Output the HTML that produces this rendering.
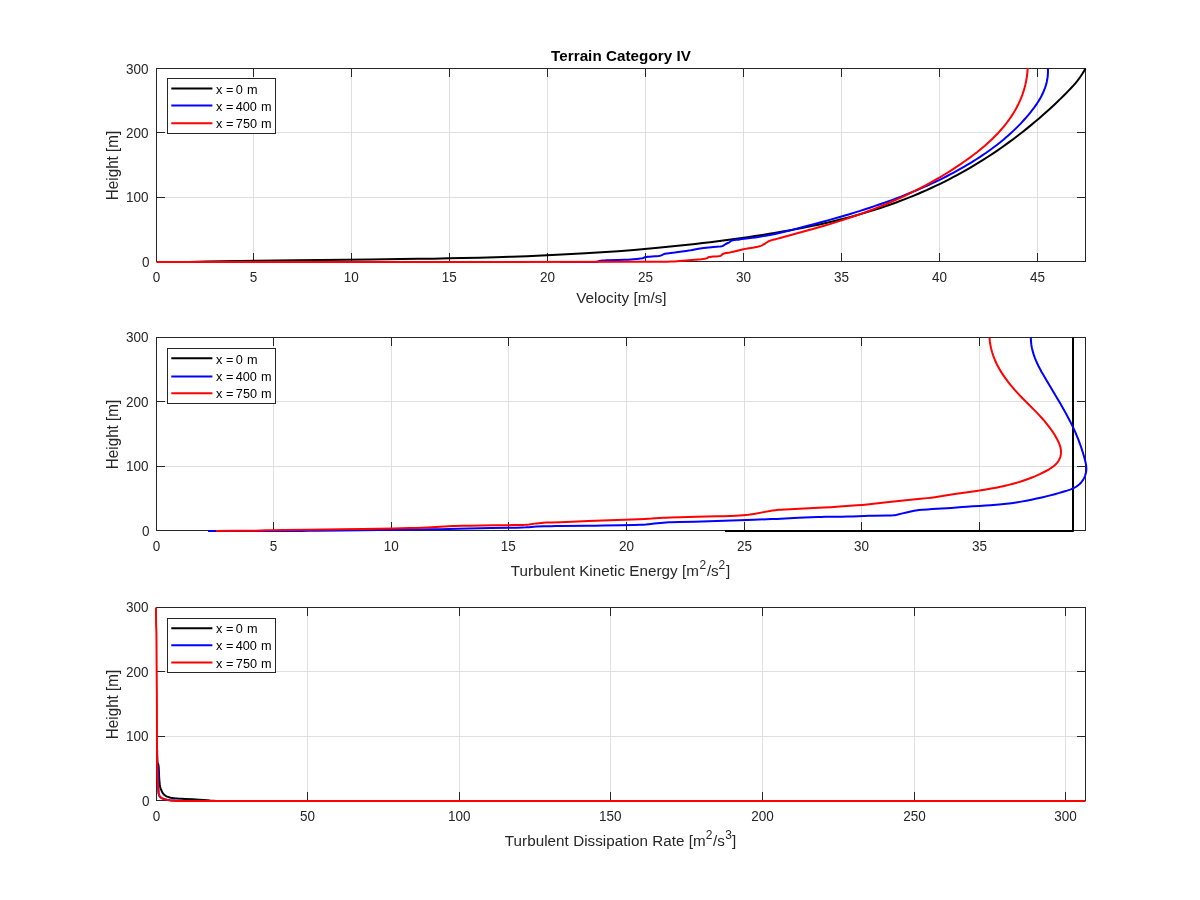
<!DOCTYPE html>
<html><head><meta charset="utf-8"><style>
html,body{margin:0;padding:0;background:#fff;}
svg{display:block;will-change:transform;}
text{font-family:"Liberation Sans",sans-serif;}
.tk{font-size:13.33px;fill:#262626;}
.lb{font-size:14.67px;fill:#262626;}
.sup{font-size:10.5px;}
.lg{font-size:12px;fill:#000;}
.tt{font-size:14.67px;font-weight:bold;fill:#000;}
</style></head><body>
<svg width="1200" height="900" viewBox="0 0 1200 900">
<rect width="1200" height="900" fill="#fff"/>
<line x1="253.5" y1="68" x2="253.5" y2="262" stroke="#dfdfdf" stroke-width="1"/>
<line x1="351.5" y1="68" x2="351.5" y2="262" stroke="#dfdfdf" stroke-width="1"/>
<line x1="449.5" y1="68" x2="449.5" y2="262" stroke="#dfdfdf" stroke-width="1"/>
<line x1="547.5" y1="68" x2="547.5" y2="262" stroke="#dfdfdf" stroke-width="1"/>
<line x1="645.5" y1="68" x2="645.5" y2="262" stroke="#dfdfdf" stroke-width="1"/>
<line x1="743.5" y1="68" x2="743.5" y2="262" stroke="#dfdfdf" stroke-width="1"/>
<line x1="841.5" y1="68" x2="841.5" y2="262" stroke="#dfdfdf" stroke-width="1"/>
<line x1="939.5" y1="68" x2="939.5" y2="262" stroke="#dfdfdf" stroke-width="1"/>
<line x1="1037.5" y1="68" x2="1037.5" y2="262" stroke="#dfdfdf" stroke-width="1"/>
<line x1="156" y1="197.5" x2="1086" y2="197.5" stroke="#dfdfdf" stroke-width="1"/>
<line x1="156" y1="132.5" x2="1086" y2="132.5" stroke="#dfdfdf" stroke-width="1"/>
<line x1="273.5" y1="337" x2="273.5" y2="531" stroke="#dfdfdf" stroke-width="1"/>
<line x1="391.5" y1="337" x2="391.5" y2="531" stroke="#dfdfdf" stroke-width="1"/>
<line x1="508.5" y1="337" x2="508.5" y2="531" stroke="#dfdfdf" stroke-width="1"/>
<line x1="626.5" y1="337" x2="626.5" y2="531" stroke="#dfdfdf" stroke-width="1"/>
<line x1="744.5" y1="337" x2="744.5" y2="531" stroke="#dfdfdf" stroke-width="1"/>
<line x1="861.5" y1="337" x2="861.5" y2="531" stroke="#dfdfdf" stroke-width="1"/>
<line x1="979.5" y1="337" x2="979.5" y2="531" stroke="#dfdfdf" stroke-width="1"/>
<line x1="156" y1="466.5" x2="1086" y2="466.5" stroke="#dfdfdf" stroke-width="1"/>
<line x1="156" y1="401.5" x2="1086" y2="401.5" stroke="#dfdfdf" stroke-width="1"/>
<line x1="307.5" y1="607" x2="307.5" y2="801" stroke="#dfdfdf" stroke-width="1"/>
<line x1="459.5" y1="607" x2="459.5" y2="801" stroke="#dfdfdf" stroke-width="1"/>
<line x1="610.5" y1="607" x2="610.5" y2="801" stroke="#dfdfdf" stroke-width="1"/>
<line x1="762.5" y1="607" x2="762.5" y2="801" stroke="#dfdfdf" stroke-width="1"/>
<line x1="914.5" y1="607" x2="914.5" y2="801" stroke="#dfdfdf" stroke-width="1"/>
<line x1="1065.5" y1="607" x2="1065.5" y2="801" stroke="#dfdfdf" stroke-width="1"/>
<line x1="156" y1="736.5" x2="1086" y2="736.5" stroke="#dfdfdf" stroke-width="1"/>
<line x1="156" y1="671.5" x2="1086" y2="671.5" stroke="#dfdfdf" stroke-width="1"/>
<rect x="156.5" y="68.5" width="929" height="193" fill="none" stroke="#262626" stroke-width="1"/>
<line x1="253.5" y1="68" x2="253.5" y2="77" stroke="#262626" stroke-width="1"/>
<line x1="253.5" y1="262" x2="253.5" y2="253" stroke="#262626" stroke-width="1"/>
<line x1="351.5" y1="68" x2="351.5" y2="77" stroke="#262626" stroke-width="1"/>
<line x1="351.5" y1="262" x2="351.5" y2="253" stroke="#262626" stroke-width="1"/>
<line x1="449.5" y1="68" x2="449.5" y2="77" stroke="#262626" stroke-width="1"/>
<line x1="449.5" y1="262" x2="449.5" y2="253" stroke="#262626" stroke-width="1"/>
<line x1="547.5" y1="68" x2="547.5" y2="77" stroke="#262626" stroke-width="1"/>
<line x1="547.5" y1="262" x2="547.5" y2="253" stroke="#262626" stroke-width="1"/>
<line x1="645.5" y1="68" x2="645.5" y2="77" stroke="#262626" stroke-width="1"/>
<line x1="645.5" y1="262" x2="645.5" y2="253" stroke="#262626" stroke-width="1"/>
<line x1="743.5" y1="68" x2="743.5" y2="77" stroke="#262626" stroke-width="1"/>
<line x1="743.5" y1="262" x2="743.5" y2="253" stroke="#262626" stroke-width="1"/>
<line x1="841.5" y1="68" x2="841.5" y2="77" stroke="#262626" stroke-width="1"/>
<line x1="841.5" y1="262" x2="841.5" y2="253" stroke="#262626" stroke-width="1"/>
<line x1="939.5" y1="68" x2="939.5" y2="77" stroke="#262626" stroke-width="1"/>
<line x1="939.5" y1="262" x2="939.5" y2="253" stroke="#262626" stroke-width="1"/>
<line x1="1037.5" y1="68" x2="1037.5" y2="77" stroke="#262626" stroke-width="1"/>
<line x1="1037.5" y1="262" x2="1037.5" y2="253" stroke="#262626" stroke-width="1"/>
<line x1="156" y1="197.5" x2="165" y2="197.5" stroke="#262626" stroke-width="1"/>
<line x1="1086" y1="197.5" x2="1077" y2="197.5" stroke="#262626" stroke-width="1"/>
<line x1="156" y1="132.5" x2="165" y2="132.5" stroke="#262626" stroke-width="1"/>
<line x1="1086" y1="132.5" x2="1077" y2="132.5" stroke="#262626" stroke-width="1"/>
<rect x="156.5" y="337.5" width="929" height="193" fill="none" stroke="#262626" stroke-width="1"/>
<line x1="273.5" y1="337" x2="273.5" y2="346" stroke="#262626" stroke-width="1"/>
<line x1="273.5" y1="531" x2="273.5" y2="522" stroke="#262626" stroke-width="1"/>
<line x1="391.5" y1="337" x2="391.5" y2="346" stroke="#262626" stroke-width="1"/>
<line x1="391.5" y1="531" x2="391.5" y2="522" stroke="#262626" stroke-width="1"/>
<line x1="508.5" y1="337" x2="508.5" y2="346" stroke="#262626" stroke-width="1"/>
<line x1="508.5" y1="531" x2="508.5" y2="522" stroke="#262626" stroke-width="1"/>
<line x1="626.5" y1="337" x2="626.5" y2="346" stroke="#262626" stroke-width="1"/>
<line x1="626.5" y1="531" x2="626.5" y2="522" stroke="#262626" stroke-width="1"/>
<line x1="744.5" y1="337" x2="744.5" y2="346" stroke="#262626" stroke-width="1"/>
<line x1="744.5" y1="531" x2="744.5" y2="522" stroke="#262626" stroke-width="1"/>
<line x1="861.5" y1="337" x2="861.5" y2="346" stroke="#262626" stroke-width="1"/>
<line x1="861.5" y1="531" x2="861.5" y2="522" stroke="#262626" stroke-width="1"/>
<line x1="979.5" y1="337" x2="979.5" y2="346" stroke="#262626" stroke-width="1"/>
<line x1="979.5" y1="531" x2="979.5" y2="522" stroke="#262626" stroke-width="1"/>
<line x1="156" y1="466.5" x2="165" y2="466.5" stroke="#262626" stroke-width="1"/>
<line x1="1086" y1="466.5" x2="1077" y2="466.5" stroke="#262626" stroke-width="1"/>
<line x1="156" y1="401.5" x2="165" y2="401.5" stroke="#262626" stroke-width="1"/>
<line x1="1086" y1="401.5" x2="1077" y2="401.5" stroke="#262626" stroke-width="1"/>
<rect x="156.5" y="607.5" width="929" height="193" fill="none" stroke="#262626" stroke-width="1"/>
<line x1="307.5" y1="607" x2="307.5" y2="616" stroke="#262626" stroke-width="1"/>
<line x1="307.5" y1="801" x2="307.5" y2="792" stroke="#262626" stroke-width="1"/>
<line x1="459.5" y1="607" x2="459.5" y2="616" stroke="#262626" stroke-width="1"/>
<line x1="459.5" y1="801" x2="459.5" y2="792" stroke="#262626" stroke-width="1"/>
<line x1="610.5" y1="607" x2="610.5" y2="616" stroke="#262626" stroke-width="1"/>
<line x1="610.5" y1="801" x2="610.5" y2="792" stroke="#262626" stroke-width="1"/>
<line x1="762.5" y1="607" x2="762.5" y2="616" stroke="#262626" stroke-width="1"/>
<line x1="762.5" y1="801" x2="762.5" y2="792" stroke="#262626" stroke-width="1"/>
<line x1="914.5" y1="607" x2="914.5" y2="616" stroke="#262626" stroke-width="1"/>
<line x1="914.5" y1="801" x2="914.5" y2="792" stroke="#262626" stroke-width="1"/>
<line x1="1065.5" y1="607" x2="1065.5" y2="616" stroke="#262626" stroke-width="1"/>
<line x1="1065.5" y1="801" x2="1065.5" y2="792" stroke="#262626" stroke-width="1"/>
<line x1="156" y1="736.5" x2="165" y2="736.5" stroke="#262626" stroke-width="1"/>
<line x1="1086" y1="736.5" x2="1077" y2="736.5" stroke="#262626" stroke-width="1"/>
<line x1="156" y1="671.5" x2="165" y2="671.5" stroke="#262626" stroke-width="1"/>
<line x1="1086" y1="671.5" x2="1077" y2="671.5" stroke="#262626" stroke-width="1"/>
<polyline points="190.00,262.03 205.93,261.62 222.36,261.26 239.78,260.94 258.20,260.64 276.12,260.40 295.53,260.18 370.20,259.45 401.06,259.10 417.98,258.87 433.41,258.63 448.35,258.36 462.28,258.07 479.21,257.66 495.63,257.21 511.56,256.70 526.99,256.14 541.93,255.53 556.86,254.84 571.30,254.10 585.23,253.31 601.66,252.27 618.09,251.13 634.02,249.89 641.98,249.23 649.95,248.54 657.91,247.81 665.38,247.10 672.84,246.36 680.31,245.59 687.78,244.78 695.24,243.95 702.71,243.08 710.18,242.18 717.64,241.25 725.11,240.28 732.58,239.27 740.04,238.23 747.51,237.16 754.98,236.04 762.44,234.89 769.41,233.78 775.88,232.71 782.35,231.61 788.83,230.47 794.80,229.37 800.77,228.24 806.75,227.07 812.72,225.85 818.19,224.69 823.67,223.48 829.15,222.23 834.62,220.94 840.10,219.59 845.57,218.20 850.55,216.88 855.53,215.52 860.51,214.11 865.48,212.65 870.46,211.14 875.44,209.58 880.42,207.97 885.39,206.30 889.87,204.74 894.85,202.96 899.33,201.31 904.31,199.41 908.79,197.65 913.27,195.83 917.75,193.96 922.23,192.04 926.71,190.06 931.19,188.03 935.67,185.93 940.15,183.78 944.63,181.56 949.11,179.28 953.09,177.20 957.57,174.81 961.55,172.62 966.03,170.09 970.02,167.80 974.50,165.14 978.98,162.42 983.46,159.63 987.94,156.76 992.42,153.82 996.90,150.81 1001.38,147.71 1005.36,144.90 1009.84,141.66 1013.82,138.70 1018.30,135.30 1022.28,132.21 1026.76,128.64 1030.74,125.40 1034.73,122.08 1038.71,118.69 1043.19,114.79 1047.17,111.24 1051.65,107.14 1055.63,103.41 1060.11,99.11 1064.10,95.18 1068.58,90.65 1071.56,87.52 1073.55,85.34 1075.54,83.03 1077.54,80.58 1079.03,78.61 1080.02,77.23 1081.02,75.80 1082.51,73.53 1084.01,71.10 1085.50,68.51" fill="none" stroke="#000" stroke-width="2.0" stroke-linejoin="round" stroke-linecap="butt"/>
<polyline points="560.00,262.00 580.02,261.97 595.26,261.89 595.94,261.84 596.84,261.69 597.74,261.49 599.53,261.03 600.43,260.82 601.33,260.67 602.01,260.60 604.28,260.47 606.79,260.37 618.03,260.07 624.44,259.81 627.87,259.63 630.84,259.44 633.58,259.24 636.54,258.97 640.87,258.50 641.79,258.38 642.46,258.26 642.67,258.21 643.10,258.05 644.15,257.55 644.79,257.30 645.45,257.17 646.56,257.00 647.91,256.83 649.51,256.68 654.84,256.34 656.68,256.19 658.49,255.98 660.04,255.74 660.69,255.57 661.33,255.33 663.43,254.30 664.28,253.95 664.71,253.82 665.15,253.72 666.93,253.41 668.97,253.15 674.70,252.54 681.97,251.59 686.28,250.98 688.76,250.60 690.79,250.26 692.37,249.94 695.73,249.22 697.30,248.91 698.43,248.73 700.24,248.48 703.65,248.07 711.40,247.24 713.02,247.09 716.99,246.77 718.61,246.62 720.18,246.42 721.70,246.17 722.54,245.99 722.74,245.93 723.14,245.75 723.72,245.39 724.87,244.54 725.26,244.28 726.27,243.75 728.35,242.77 729.16,242.35 729.56,242.13 729.94,241.86 730.85,241.08 731.22,240.81 731.60,240.63 732.01,240.52 733.88,240.13 734.97,239.95 735.87,239.83 737.03,239.72 737.99,239.65 740.00,239.60 739.91,239.29 741.62,239.05 744.34,238.71 752.26,237.83 755.23,237.44 758.42,236.97 762.10,236.38 765.76,235.74 769.66,235.00 773.78,234.16 778.38,233.16 783.44,231.99 788.74,230.71 794.74,229.20 803.86,226.84 812.73,224.50 820.87,222.31 828.76,220.14 839.74,217.02 844.98,215.48 850.21,213.92 855.19,212.40 860.16,210.85 865.11,209.27 869.83,207.74 874.53,206.17 879.21,204.57 883.65,203.02 888.08,201.44 892.50,199.83 896.67,198.27 901.05,196.59 905.20,194.96 909.33,193.30 913.21,191.70 917.09,190.07 920.94,188.41 924.79,186.71 928.62,184.98 932.43,183.21 936.01,181.52 939.57,179.79 943.12,178.03 946.65,176.24 950.17,174.41 953.67,172.55 957.15,170.65 960.62,168.71 963.86,166.86 967.08,164.98 970.28,163.07 973.45,161.11 976.40,159.26 979.33,157.37 982.23,155.45 985.11,153.49 987.96,151.50 990.79,149.47 993.39,147.56 996.16,145.46 998.70,143.48 1001.22,141.47 1003.70,139.42 1006.16,137.33 1008.58,135.22 1010.97,133.06 1013.33,130.87 1015.65,128.64 1017.93,126.38 1020.18,124.08 1022.21,121.91 1024.38,119.54 1026.35,117.30 1028.43,114.85 1030.32,112.55 1032.17,110.21 1033.97,107.83 1035.56,105.61 1036.96,103.57 1038.30,101.50 1039.58,99.39 1040.68,97.47 1041.72,95.52 1042.69,93.54 1043.60,91.53 1044.43,89.49 1045.11,87.65 1045.72,85.79 1046.27,83.90 1046.74,81.98 1047.15,80.04 1047.47,78.07 1047.72,76.07 1047.89,74.04 1047.96,72.25 1047.97,70.16 1047.89,68.31" fill="none" stroke="#00f" stroke-width="2.0" stroke-linejoin="round" stroke-linecap="butt"/>
<polyline points="156.50,262.00 327.15,261.98 486.11,261.91 634.15,261.80 651.30,261.76 665.32,261.70 667.66,261.66 670.77,261.55 673.88,261.39 676.99,261.19 694.88,259.84 701.13,259.24 702.71,259.05 704.26,258.82 705.76,258.53 706.48,258.36 707.18,258.08 707.83,257.60 708.50,257.18 709.21,257.01 709.95,256.89 711.50,256.72 713.10,256.61 716.33,256.44 717.90,256.31 719.39,256.12 720.09,255.98 720.76,255.66 721.39,255.17 722.01,254.61 722.64,254.10 723.31,253.75 724.01,253.53 724.74,253.33 726.25,253.02 730.17,252.39 731.72,252.10 733.24,251.75 742.33,249.57 745.37,248.89 747.67,248.45 753.82,247.42 757.66,246.66 759.19,246.30 759.93,246.10 760.67,245.88 761.38,245.62 762.08,245.29 762.76,244.92 765.46,243.29 767.43,241.98 768.09,241.57 768.77,241.21 770.18,240.65 771.65,240.15 773.15,239.73 773.92,239.55 774.71,239.41 775.50,239.30 775.46,239.26 776.68,238.89 781.00,237.67 804.48,231.31 812.82,229.01 819.68,227.08 825.89,225.26 830.64,223.84 835.37,222.38 840.09,220.90 844.79,219.37 849.48,217.82 853.94,216.29 858.40,214.74 862.83,213.14 868.65,210.99 874.25,208.85 879.82,206.65 885.16,204.47 890.47,202.22 895.76,199.91 901.02,197.54 906.25,195.10 911.25,192.69 916.23,190.22 921.19,187.67 926.11,185.06 931.00,182.38 935.68,179.74 940.32,177.03 944.94,174.25 950.08,171.05 955.00,167.88 959.88,164.63 964.72,161.29 969.16,158.12 973.36,154.99 977.33,151.93 981.22,148.78 984.87,145.69 988.43,142.53 991.75,139.44 993.45,137.80 994.97,136.28 997.94,133.19 999.39,131.63 1000.81,130.04 1002.21,128.43 1003.58,126.81 1004.92,125.16 1006.11,123.67 1007.39,121.99 1008.52,120.46 1009.75,118.74 1010.83,117.18 1011.99,115.42 1013.01,113.82 1014.00,112.20 1014.97,110.57 1015.90,108.92 1016.80,107.25 1017.67,105.57 1018.51,103.86 1019.32,102.14 1020.10,100.40 1020.84,98.64 1021.55,96.86 1022.23,95.07 1022.80,93.45 1023.41,91.62 1023.92,89.97 1024.46,88.10 1024.90,86.42 1025.37,84.52 1025.75,82.80 1026.15,80.86 1026.47,79.11 1026.75,77.35 1027.00,75.57 1027.25,73.54 1027.43,71.73 1027.58,69.90 1027.70,68.05" fill="none" stroke="#f00" stroke-width="2.0" stroke-linejoin="round" stroke-linecap="butt"/>
<polyline points="725.00,531.00 1073.00,531.00 1073.00,337.50" fill="none" stroke="#000" stroke-width="2.0" stroke-linejoin="round" stroke-linecap="butt"/>
<polyline points="208.00,530.90 300.80,530.90 308.53,530.87 317.23,530.79 341.40,530.51 379.09,529.91 418.73,529.53 432.26,529.37 440.96,529.21 457.39,528.85 491.21,528.07 516.35,527.64 522.14,527.49 526.00,527.36 528.90,527.17 533.72,526.78 536.61,526.60 544.34,526.33 551.10,526.15 555.94,526.06 561.74,525.98 585.90,525.84 594.60,525.74 603.30,525.58 620.70,525.19 634.24,524.94 640.03,524.79 642.93,524.68 645.81,524.48 648.70,524.18 654.47,523.50 657.35,523.21 666.03,522.54 668.92,522.36 671.82,522.23 678.58,522.03 694.05,521.72 701.78,521.50 753.95,519.68 771.34,519.10 777.13,518.88 780.99,518.71 798.37,517.82 810.93,517.29 817.69,517.04 821.56,516.94 825.42,516.86 841.86,516.68 847.65,516.58 852.48,516.42 864.07,515.89 868.90,515.72 873.74,515.64 887.30,515.51 891.15,515.44 893.06,515.37 894.01,515.29 894.96,515.16 895.91,514.99 896.86,514.78 902.53,513.36 905.37,512.76 912.94,511.07 915.79,510.53 917.69,510.23 918.65,510.11 922.48,509.74 927.29,509.39 932.11,509.11 941.79,508.61 946.62,508.31 951.44,507.94 962.03,507.05 966.85,506.69 972.64,506.34 979.40,506.00 979.41,505.97 985.59,505.61 990.36,505.30 996.34,504.84 1001.60,504.35 1006.50,503.80 1011.38,503.17 1016.25,502.45 1021.27,501.63 1026.29,500.72 1031.48,499.70 1036.66,498.60 1041.83,497.42 1048.21,495.87 1054.77,494.16 1058.58,493.12 1062.38,492.05 1064.98,491.29 1067.03,490.66 1068.56,490.15 1070.06,489.60 1071.37,489.08 1072.66,488.53 1073.91,487.93 1074.97,487.36 1076.01,486.76 1077.02,486.11 1078.12,485.31 1079.17,484.44 1080.17,483.50 1081.11,482.48 1081.88,481.53 1082.70,480.38 1083.45,479.16 1084.12,477.89 1084.71,476.58 1085.22,475.24 1085.64,473.87 1085.96,472.47 1086.19,471.08 1086.31,469.85 1086.35,468.45 1086.29,467.06 1086.16,465.68 1085.92,464.12 1085.58,462.40 1085.13,460.51 1084.39,457.77 1083.46,454.53 1082.52,451.47 1081.54,448.42 1080.62,445.73 1079.66,443.05 1078.66,440.40 1077.69,437.93 1076.61,435.32 1075.50,432.73 1074.35,430.16 1073.09,427.45 1070.87,422.87 1068.47,418.18 1065.90,413.38 1062.99,408.17 1060.36,403.59 1057.33,398.42 1045.15,378.07 1043.27,374.84 1041.60,371.91 1039.92,368.79 1038.46,365.96 1037.17,363.26 1036.03,360.70 1035.36,359.08 1034.78,357.62 1034.24,356.14 1033.73,354.65 1033.26,353.15 1032.82,351.65 1032.42,350.12 1032.10,348.76 1031.78,347.22 1031.53,345.83 1031.32,344.44 1031.15,343.03 1031.01,341.61 1030.91,340.18 1030.86,338.74 1030.85,337.46" fill="none" stroke="#00f" stroke-width="2.0" stroke-linejoin="round" stroke-linecap="butt"/>
<polyline points="216.00,530.90 234.20,530.87 251.44,530.79 255.27,530.72 266.75,530.37 271.54,530.27 283.03,530.11 308.89,529.81 341.45,529.36 363.47,529.01 393.16,528.48 409.44,528.11 416.14,527.92 421.88,527.73 427.62,527.45 448.66,526.26 452.49,526.08 455.36,525.99 462.06,525.83 469.72,525.70 493.66,525.34 512.83,525.10 517.62,525.01 522.40,524.88 525.26,524.79 527.16,524.66 529.07,524.44 534.77,523.62 536.67,523.40 543.35,522.81 546.22,522.61 548.13,522.51 551.96,522.39 559.62,522.21 566.32,521.98 588.33,521.07 617.04,519.91 624.69,519.63 639.05,519.15 644.79,518.93 651.49,518.62 662.95,517.80 665.82,517.66 670.61,517.48 680.18,517.18 696.46,516.76 716.57,516.37 723.27,516.21 730.93,515.96 735.71,515.73 739.54,515.48 743.36,515.18 748.12,514.74 750.02,514.51 751.91,514.23 753.80,513.92 762.29,512.36 772.69,510.59 775.53,510.17 778.38,509.85 781.24,509.65 785.06,509.43 799.42,508.83 813.77,508.11 823.34,507.60 830.98,507.14 839.59,506.59 850.10,505.86 856.78,505.36 862.51,504.88 869.18,504.23 884.42,502.61 903.45,500.48 908.22,500.00 920.62,498.82 927.28,498.12 931.08,497.66 934.88,497.14 945.29,495.51 954.76,494.10 974.66,491.18 979.40,490.50 979.39,490.55 984.45,489.76 991.18,488.61 994.39,488.02 997.43,487.42 1000.32,486.83 1003.20,486.20 1006.07,485.54 1008.79,484.87 1011.95,484.06 1014.95,483.24 1017.94,482.36 1020.93,481.44 1023.75,480.51 1026.57,479.53 1029.37,478.49 1032.02,477.46 1034.81,476.32 1037.59,475.11 1040.35,473.84 1043.10,472.50 1045.55,471.25 1047.68,470.08 1049.47,469.02 1051.20,467.91 1052.60,466.92 1053.81,465.97 1054.95,464.98 1056.02,463.95 1057.01,462.87 1057.82,461.84 1058.55,460.78 1059.19,459.66 1059.74,458.50 1060.20,457.28 1060.52,456.16 1060.78,454.84 1060.92,453.64 1060.99,452.26 1060.95,450.86 1060.82,449.46 1060.62,448.21 1060.38,447.13 1060.09,446.05 1059.70,444.85 1059.24,443.65 1058.67,442.33 1058.06,441.03 1057.33,439.61 1056.42,437.93 1055.40,436.14 1054.42,434.52 1053.33,432.80 1052.21,431.11 1051.05,429.45 1049.86,427.82 1048.55,426.08 1046.53,423.54 1044.35,420.93 1042.00,418.26 1039.39,415.41 1037.05,412.93 1034.35,410.15 1025.02,400.77 1021.30,396.97 1017.64,393.10 1014.48,389.61 1012.62,387.46 1010.91,385.41 1009.22,383.33 1007.58,381.21 1006.08,379.20 1004.62,377.16 1003.20,375.09 1001.92,373.13 1000.53,370.88 999.19,368.59 998.00,366.42 996.87,364.21 995.81,361.99 994.82,359.73 993.90,357.44 993.10,355.28 992.38,353.09 991.73,350.87 991.16,348.63 990.66,346.37 990.25,344.08 989.93,341.93 989.70,339.75 989.54,337.55" fill="none" stroke="#f00" stroke-width="2.0" stroke-linejoin="round" stroke-linecap="butt"/>
<polyline points="157.10,750.00 157.12,753.21 157.17,756.35 157.27,759.28 157.40,762.02 157.47,762.50 157.61,762.97 158.19,764.37 158.36,764.84 158.47,765.32 158.52,765.64 158.67,767.25 158.80,769.21 159.08,776.16 159.24,778.80 159.42,781.11 159.59,782.92 159.76,784.39 159.97,785.85 160.21,786.97 160.59,788.23 161.35,790.24 161.88,791.46 162.43,792.48 163.05,793.44 163.69,794.22 164.03,794.58 164.39,794.91 165.17,795.50 165.59,795.77 166.17,796.10 167.21,796.59 168.45,797.04 169.72,797.42 171.00,797.70 172.79,798.02 174.75,798.30 178.03,798.61 181.81,798.86 184.94,799.01 192.84,799.28 195.97,799.44 199.26,799.63 203.69,799.96 209.92,800.59 213.04,800.82 216.00,801.00" fill="none" stroke="#000" stroke-width="2.0" stroke-linejoin="round" stroke-linecap="butt"/>
<polyline points="157.10,755.00 157.13,760.27 157.22,764.53 157.29,765.22 157.40,766.04 157.96,769.18 158.21,770.96 158.29,771.79 158.34,774.96 158.38,782.71 158.42,786.30 158.50,789.63 158.62,792.24 158.69,792.94 158.83,793.78 159.02,794.60 159.26,795.37 159.40,795.73 159.59,796.09 159.84,796.44 160.21,796.89 160.83,797.47 161.14,797.70 161.60,797.99 162.47,798.44 163.53,798.85 165.11,799.31 166.73,799.69 168.38,799.99 169.89,800.19 172.22,800.40 174.56,800.57 176.91,800.70 179.13,800.78 189.77,800.94 200.00,801.00" fill="none" stroke="#00f" stroke-width="2.0" stroke-linejoin="round" stroke-linecap="butt"/>
<polyline points="156.00,607.50 156.03,617.28 156.11,625.66 156.38,631.24 156.44,635.42 156.50,643.80 156.61,664.75 156.87,694.08 156.93,709.45 157.00,745.76 157.06,759.72 157.14,763.91 157.30,769.50 157.78,783.46 157.98,787.64 158.18,790.44 158.33,791.83 158.53,793.20 158.89,794.58 159.43,795.86 160.24,796.98 161.34,797.90 162.54,798.52 163.89,799.01 165.23,799.40 166.59,799.72 167.96,799.98 169.34,800.21 173.50,800.74 174.90,800.86 176.29,800.90 181.87,800.95 194.44,801.00 1085.50,801.00" fill="none" stroke="#f00" stroke-width="2.0" stroke-linejoin="round" stroke-linecap="butt"/>
<rect x="167.5" y="78.5" width="108" height="55" fill="#fff" stroke="#262626" stroke-width="1"/>
<line x1="171.3" y1="88.5" x2="212.4" y2="88.5" stroke="#000" stroke-width="2"/>
<text transform="translate(215.96,93.90) scale(1,1.03)" x="0" y="0" font-size="12.7" fill="#000">x</text>
<text transform="translate(226.08,93.90) scale(1,1.03)" x="0" y="0" font-size="12.7" fill="#000">=</text>
<text transform="translate(235.70,93.90) scale(1,1.03)" x="0" y="0" font-size="12.7" fill="#000">0</text>
<text transform="translate(247.06,93.90) scale(1,1.03)" x="0" y="0" font-size="12.7" fill="#000">m</text>
<line x1="171.3" y1="105.4" x2="212.4" y2="105.4" stroke="#00f" stroke-width="2"/>
<text transform="translate(215.96,110.70) scale(1,1.03)" x="0" y="0" font-size="12.7" fill="#000">x</text>
<text transform="translate(226.08,110.70) scale(1,1.03)" x="0" y="0" font-size="12.7" fill="#000">=</text>
<text transform="translate(235.71,110.70) scale(1,1.03)" x="0" y="0" font-size="12.7" fill="#000">400</text>
<text transform="translate(260.96,110.70) scale(1,1.03)" x="0" y="0" font-size="12.7" fill="#000">m</text>
<line x1="171.3" y1="123.3" x2="212.4" y2="123.3" stroke="#f00" stroke-width="2"/>
<text transform="translate(215.96,127.90) scale(1,1.03)" x="0" y="0" font-size="12.7" fill="#000">x</text>
<text transform="translate(226.08,127.90) scale(1,1.03)" x="0" y="0" font-size="12.7" fill="#000">=</text>
<text transform="translate(235.85,127.90) scale(1,1.03)" x="0" y="0" font-size="12.7" fill="#000">750</text>
<text transform="translate(260.96,127.90) scale(1,1.03)" x="0" y="0" font-size="12.7" fill="#000">m</text>
<text transform="translate(152.75,281.50) scale(1,1.05)" x="0" y="0" font-size="13.5" fill="#262626">0</text>
<text transform="translate(249.76,281.50) scale(1,1.05)" x="0" y="0" font-size="13.5" fill="#262626">5</text>
<text transform="translate(343.74,281.50) scale(1,1.05)" x="0" y="0" font-size="13.5" fill="#262626">10</text>
<text transform="translate(441.76,281.50) scale(1,1.05)" x="0" y="0" font-size="13.5" fill="#262626">15</text>
<text transform="translate(539.92,281.50) scale(1,1.05)" x="0" y="0" font-size="13.5" fill="#262626">20</text>
<text transform="translate(637.94,281.50) scale(1,1.05)" x="0" y="0" font-size="13.5" fill="#262626">25</text>
<text transform="translate(736.00,281.50) scale(1,1.05)" x="0" y="0" font-size="13.5" fill="#262626">30</text>
<text transform="translate(834.02,281.50) scale(1,1.05)" x="0" y="0" font-size="13.5" fill="#262626">35</text>
<text transform="translate(932.10,281.50) scale(1,1.05)" x="0" y="0" font-size="13.5" fill="#262626">40</text>
<text transform="translate(1030.12,281.50) scale(1,1.05)" x="0" y="0" font-size="13.5" fill="#262626">45</text>
<text transform="translate(142.12,267.00) scale(1,1.05)" x="0" y="0" font-size="13.5" fill="#262626">0</text>
<text transform="translate(126.10,202.00) scale(1,1.05)" x="0" y="0" font-size="13.5" fill="#262626">100</text>
<text transform="translate(126.10,138.00) scale(1,1.05)" x="0" y="0" font-size="13.5" fill="#262626">200</text>
<text transform="translate(126.10,74.00) scale(1,1.05)" x="0" y="0" font-size="13.5" fill="#262626">300</text>
<text transform="translate(117.9,200.15) rotate(-90) scale(1,1.06)" x="0" y="0" font-size="15.2" fill="#262626" textLength="69.33" lengthAdjust="spacing">Height [m]</text>
<rect x="167.5" y="348.5" width="108" height="55" fill="#fff" stroke="#262626" stroke-width="1"/>
<line x1="171.3" y1="358.3" x2="212.4" y2="358.3" stroke="#000" stroke-width="2"/>
<text transform="translate(215.96,363.70) scale(1,1.03)" x="0" y="0" font-size="12.7" fill="#000">x</text>
<text transform="translate(226.08,363.70) scale(1,1.03)" x="0" y="0" font-size="12.7" fill="#000">=</text>
<text transform="translate(235.70,363.70) scale(1,1.03)" x="0" y="0" font-size="12.7" fill="#000">0</text>
<text transform="translate(247.06,363.70) scale(1,1.03)" x="0" y="0" font-size="12.7" fill="#000">m</text>
<line x1="171.3" y1="376.5" x2="212.4" y2="376.5" stroke="#00f" stroke-width="2"/>
<text transform="translate(215.96,380.70) scale(1,1.03)" x="0" y="0" font-size="12.7" fill="#000">x</text>
<text transform="translate(226.08,380.70) scale(1,1.03)" x="0" y="0" font-size="12.7" fill="#000">=</text>
<text transform="translate(235.71,380.70) scale(1,1.03)" x="0" y="0" font-size="12.7" fill="#000">400</text>
<text transform="translate(260.96,380.70) scale(1,1.03)" x="0" y="0" font-size="12.7" fill="#000">m</text>
<line x1="171.3" y1="393.3" x2="212.4" y2="393.3" stroke="#f00" stroke-width="2"/>
<text transform="translate(215.96,397.70) scale(1,1.03)" x="0" y="0" font-size="12.7" fill="#000">x</text>
<text transform="translate(226.08,397.70) scale(1,1.03)" x="0" y="0" font-size="12.7" fill="#000">=</text>
<text transform="translate(235.85,397.70) scale(1,1.03)" x="0" y="0" font-size="12.7" fill="#000">750</text>
<text transform="translate(260.96,397.70) scale(1,1.03)" x="0" y="0" font-size="12.7" fill="#000">m</text>
<text transform="translate(152.75,550.50) scale(1,1.05)" x="0" y="0" font-size="13.5" fill="#262626">0</text>
<text transform="translate(269.76,550.50) scale(1,1.05)" x="0" y="0" font-size="13.5" fill="#262626">5</text>
<text transform="translate(383.74,550.50) scale(1,1.05)" x="0" y="0" font-size="13.5" fill="#262626">10</text>
<text transform="translate(500.76,550.50) scale(1,1.05)" x="0" y="0" font-size="13.5" fill="#262626">15</text>
<text transform="translate(618.92,550.50) scale(1,1.05)" x="0" y="0" font-size="13.5" fill="#262626">20</text>
<text transform="translate(736.94,550.50) scale(1,1.05)" x="0" y="0" font-size="13.5" fill="#262626">25</text>
<text transform="translate(854.00,550.50) scale(1,1.05)" x="0" y="0" font-size="13.5" fill="#262626">30</text>
<text transform="translate(972.02,550.50) scale(1,1.05)" x="0" y="0" font-size="13.5" fill="#262626">35</text>
<text transform="translate(142.12,536.00) scale(1,1.05)" x="0" y="0" font-size="13.5" fill="#262626">0</text>
<text transform="translate(126.10,471.00) scale(1,1.05)" x="0" y="0" font-size="13.5" fill="#262626">100</text>
<text transform="translate(126.10,407.00) scale(1,1.05)" x="0" y="0" font-size="13.5" fill="#262626">200</text>
<text transform="translate(126.10,342.00) scale(1,1.05)" x="0" y="0" font-size="13.5" fill="#262626">300</text>
<text transform="translate(117.9,469.15) rotate(-90) scale(1,1.06)" x="0" y="0" font-size="15.2" fill="#262626" textLength="69.33" lengthAdjust="spacing">Height [m]</text>
<rect x="167.5" y="618.5" width="108" height="54" fill="#fff" stroke="#262626" stroke-width="1"/>
<line x1="171.3" y1="628.3" x2="212.4" y2="628.3" stroke="#000" stroke-width="2"/>
<text transform="translate(215.96,633.00) scale(1,1.03)" x="0" y="0" font-size="12.7" fill="#000">x</text>
<text transform="translate(226.08,633.00) scale(1,1.03)" x="0" y="0" font-size="12.7" fill="#000">=</text>
<text transform="translate(235.70,633.00) scale(1,1.03)" x="0" y="0" font-size="12.7" fill="#000">0</text>
<text transform="translate(247.06,633.00) scale(1,1.03)" x="0" y="0" font-size="12.7" fill="#000">m</text>
<line x1="171.3" y1="645.3" x2="212.4" y2="645.3" stroke="#00f" stroke-width="2"/>
<text transform="translate(215.96,650.00) scale(1,1.03)" x="0" y="0" font-size="12.7" fill="#000">x</text>
<text transform="translate(226.08,650.00) scale(1,1.03)" x="0" y="0" font-size="12.7" fill="#000">=</text>
<text transform="translate(235.71,650.00) scale(1,1.03)" x="0" y="0" font-size="12.7" fill="#000">400</text>
<text transform="translate(260.96,650.00) scale(1,1.03)" x="0" y="0" font-size="12.7" fill="#000">m</text>
<line x1="171.3" y1="662.5" x2="212.4" y2="662.5" stroke="#f00" stroke-width="2"/>
<text transform="translate(215.96,667.70) scale(1,1.03)" x="0" y="0" font-size="12.7" fill="#000">x</text>
<text transform="translate(226.08,667.70) scale(1,1.03)" x="0" y="0" font-size="12.7" fill="#000">=</text>
<text transform="translate(235.85,667.70) scale(1,1.03)" x="0" y="0" font-size="12.7" fill="#000">750</text>
<text transform="translate(260.96,667.70) scale(1,1.03)" x="0" y="0" font-size="12.7" fill="#000">m</text>
<text transform="translate(152.75,820.50) scale(1,1.05)" x="0" y="0" font-size="13.5" fill="#262626">0</text>
<text transform="translate(299.99,820.50) scale(1,1.05)" x="0" y="0" font-size="13.5" fill="#262626">50</text>
<text transform="translate(447.99,820.50) scale(1,1.05)" x="0" y="0" font-size="13.5" fill="#262626">100</text>
<text transform="translate(598.99,820.50) scale(1,1.05)" x="0" y="0" font-size="13.5" fill="#262626">150</text>
<text transform="translate(751.16,820.50) scale(1,1.05)" x="0" y="0" font-size="13.5" fill="#262626">200</text>
<text transform="translate(903.16,820.50) scale(1,1.05)" x="0" y="0" font-size="13.5" fill="#262626">250</text>
<text transform="translate(1054.24,820.50) scale(1,1.05)" x="0" y="0" font-size="13.5" fill="#262626">300</text>
<text transform="translate(142.12,806.00) scale(1,1.05)" x="0" y="0" font-size="13.5" fill="#262626">0</text>
<text transform="translate(126.10,741.00) scale(1,1.05)" x="0" y="0" font-size="13.5" fill="#262626">100</text>
<text transform="translate(126.10,677.00) scale(1,1.05)" x="0" y="0" font-size="13.5" fill="#262626">200</text>
<text transform="translate(126.10,612.00) scale(1,1.05)" x="0" y="0" font-size="13.5" fill="#262626">300</text>
<text transform="translate(117.9,739.15) rotate(-90) scale(1,1.06)" x="0" y="0" font-size="15.2" fill="#262626" textLength="69.33" lengthAdjust="spacing">Height [m]</text>
<text transform="translate(576.23,302.90) scale(1,1.02)" x="0" y="0" font-size="15.2" fill="#262626" textLength="90.35" lengthAdjust="spacing">Velocity [m/s]</text>
<text transform="translate(510.86,575.70) scale(1,1.02)" x="0" y="0" font-size="15.2" fill="#262626" textLength="188.04" lengthAdjust="spacing">Turbulent Kinetic Energy [m</text>
<text transform="translate(699.60,568.75) scale(1,1.02)" x="0" y="0" font-size="12" fill="#262626">2</text>
<text transform="translate(706.90,575.70) scale(1,1.02)" x="0" y="0" font-size="15.2" fill="#262626">/</text>
<text transform="translate(711.08,575.70) scale(1,1.02)" x="0" y="0" font-size="15.2" fill="#262626">s</text>
<text transform="translate(718.60,568.75) scale(1,1.02)" x="0" y="0" font-size="12" fill="#262626">2</text>
<text transform="translate(725.88,575.70) scale(1,1.02)" x="0" y="0" font-size="15.2" fill="#262626">]</text>
<text transform="translate(504.76,845.70) scale(1,1.02)" x="0" y="0" font-size="15.2" fill="#262626" textLength="201.04" lengthAdjust="spacing">Turbulent Dissipation Rate [m</text>
<text transform="translate(705.65,838.75) scale(1,1.02)" x="0" y="0" font-size="12" fill="#262626">2</text>
<text transform="translate(713.10,845.70) scale(1,1.02)" x="0" y="0" font-size="15.2" fill="#262626">/</text>
<text transform="translate(717.28,845.70) scale(1,1.02)" x="0" y="0" font-size="15.2" fill="#262626">s</text>
<text transform="translate(725.14,838.75) scale(1,1.02)" x="0" y="0" font-size="12" fill="#262626">3</text>
<text transform="translate(731.88,845.70) scale(1,1.02)" x="0" y="0" font-size="15.2" fill="#262626">]</text>
<text transform="translate(551.03,60.80) scale(1,1.0)" x="0" y="0" font-size="15.2" fill="#000" font-weight="bold" textLength="139.87" lengthAdjust="spacing">Terrain Category IV</text>
</svg>
</body></html>
